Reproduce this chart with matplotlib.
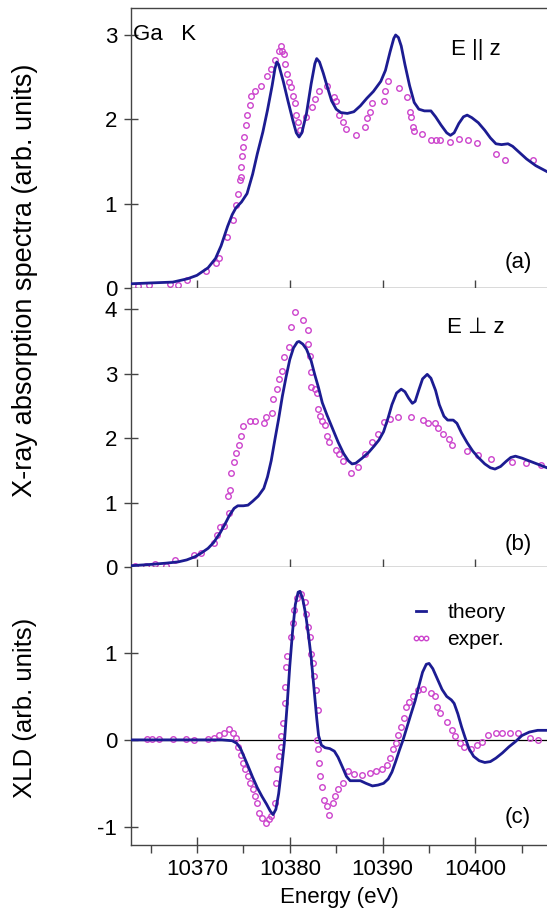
import matplotlib
matplotlib.use("Agg")
import matplotlib.pyplot as plt

plt.rcParams['font.family'] = ['Liberation Sans', 'DejaVu Sans']
plt.rcParams['axes.unicode_minus'] = False

# ---- panel (a): E || z ----
a_th_e = [10362.9, 10365.0, 10367.4, 10369.0, 10370.0, 10371.2, 10372.0, 10372.6, 10373.3, 10373.8,
          10374.2, 10374.8, 10375.4, 10376.0, 10376.5, 10377.1, 10377.6, 10378.1, 10378.4, 10378.6,
          10378.8, 10379.3, 10379.8, 10380.3, 10380.7, 10381.0, 10381.3, 10381.8, 10382.3, 10382.7,
          10382.9, 10383.2, 10383.6, 10384.0, 10384.5, 10385.0, 10385.5, 10386.2, 10386.9, 10387.6,
          10388.3, 10389.0, 10389.8, 10390.3, 10390.8, 10391.2, 10391.4, 10391.7, 10392.0, 10392.4,
          10392.9, 10393.4, 10393.9, 10394.5, 10395.2, 10395.7, 10396.3, 10396.9, 10397.3, 10397.7,
          10398.2, 10398.7, 10399.1, 10399.6, 10400.3, 10401.0, 10401.6, 10402.2, 10402.8, 10403.5,
          10404.0, 10404.7, 10405.5, 10406.5, 10407.7]
a_th_y = [0.05, 0.06, 0.07, 0.11, 0.15, 0.24, 0.35, 0.50, 0.73, 0.87,
          0.95, 1.02, 1.12, 1.35, 1.59, 1.85, 2.11, 2.40, 2.60, 2.68,
          2.65, 2.45, 2.22, 2.00, 1.84, 1.79, 1.84, 2.07, 2.42, 2.66,
          2.72, 2.68, 2.55, 2.40, 2.22, 2.12, 2.08, 2.07, 2.09, 2.16,
          2.25, 2.33, 2.45, 2.58, 2.80, 2.96, 3.00, 2.97, 2.87, 2.65,
          2.40, 2.20, 2.12, 2.10, 2.10, 2.03, 1.93, 1.84, 1.81, 1.84,
          1.95, 2.03, 2.05, 2.02, 1.96, 1.87, 1.78, 1.71, 1.70, 1.71,
          1.68, 1.61, 1.53, 1.45, 1.38]
a_ex_e = [10363.7, 10364.8, 10367.1, 10368.0, 10368.9, 10371.0, 10372.0, 10372.4, 10373.2, 10373.9,
          10374.2, 10374.4, 10374.6, 10374.7, 10374.8, 10374.9, 10375.0, 10375.1, 10375.3, 10375.4,
          10375.7, 10375.8, 10376.3, 10376.9, 10377.5, 10378.0, 10378.4, 10378.8, 10379.0, 10379.2,
          10379.4, 10379.5, 10379.7, 10379.9, 10380.1, 10380.3, 10380.6, 10380.7, 10380.9, 10381.1,
          10381.8, 10382.4, 10382.7, 10383.1, 10384.0, 10384.8, 10385.0, 10385.3, 10385.7, 10386.1,
          10387.1, 10388.1, 10388.3, 10388.6, 10388.9, 10390.1, 10390.3, 10390.6, 10391.8, 10392.6,
          10392.9, 10393.1, 10393.3, 10393.4, 10394.2, 10395.2, 10395.7, 10396.2, 10397.2, 10398.2,
          10399.2, 10400.2, 10402.2, 10403.2, 10406.2]
a_ex_y = [0.02, 0.03, 0.05, 0.04, 0.10, 0.20, 0.30, 0.35, 0.61, 0.81,
          0.98, 1.12, 1.28, 1.32, 1.44, 1.56, 1.67, 1.79, 1.93, 2.05,
          2.17, 2.28, 2.34, 2.40, 2.51, 2.60, 2.70, 2.81, 2.87, 2.81,
          2.78, 2.66, 2.54, 2.44, 2.38, 2.28, 2.19, 2.05, 1.97, 1.87,
          2.03, 2.15, 2.24, 2.34, 2.39, 2.26, 2.22, 2.05, 1.97, 1.89,
          1.81, 1.91, 2.01, 2.09, 2.19, 2.22, 2.34, 2.45, 2.37, 2.26,
          2.09, 2.03, 1.91, 1.86, 1.83, 1.75, 1.75, 1.75, 1.73, 1.77,
          1.75, 1.72, 1.59, 1.52, 1.52]

# ---- panel (b): E perp z ----
b_th_e = [10362.9, 10365.0, 10366.7, 10368.0, 10368.9, 10369.8, 10370.5, 10371.2, 10371.8, 10372.5,
          10373.0, 10373.5, 10374.0, 10374.4, 10375.0, 10375.5, 10376.0, 10376.6, 10377.2, 10377.6,
          10378.0, 10378.4, 10378.8, 10379.2, 10379.6, 10380.0, 10380.4, 10380.8, 10381.0, 10381.4,
          10381.8, 10382.3, 10382.7, 10383.1, 10383.5, 10384.0, 10384.6, 10385.2, 10385.8, 10386.3,
          10386.7, 10387.1, 10387.8, 10388.5, 10389.1, 10389.6, 10390.1, 10390.6, 10391.0, 10391.5,
          10392.0, 10392.4, 10392.8, 10393.2, 10393.5, 10393.9, 10394.3, 10394.8, 10395.2, 10395.7,
          10396.1, 10396.6, 10397.0, 10397.6, 10398.0, 10398.5, 10399.1, 10399.7, 10400.3, 10401.0,
          10401.6, 10402.1, 10402.7, 10403.3, 10403.8, 10404.3, 10405.0, 10405.9, 10406.8, 10407.7]
b_th_y = [0.02, 0.04, 0.06, 0.08, 0.11, 0.16, 0.22, 0.29, 0.38, 0.53,
          0.66, 0.80, 0.91, 0.95, 0.95, 0.96, 1.02, 1.10, 1.22, 1.40,
          1.65, 1.98, 2.30, 2.65, 2.95, 3.22, 3.40, 3.49, 3.50, 3.46,
          3.38, 3.20, 2.98, 2.78, 2.55, 2.36, 2.15, 1.94, 1.76, 1.65,
          1.60, 1.61, 1.69, 1.78, 1.88, 1.97, 2.10, 2.32, 2.52, 2.70,
          2.76, 2.72, 2.62, 2.54, 2.57, 2.75, 2.92, 2.99, 2.93, 2.74,
          2.52, 2.34, 2.28, 2.28, 2.23, 2.08, 1.93, 1.80, 1.70, 1.60,
          1.54, 1.52, 1.56, 1.64, 1.70, 1.72, 1.69, 1.64, 1.59, 1.54]
b_ex_e = [10363.3, 10364.5, 10365.5, 10366.7, 10367.6, 10369.7, 10370.4, 10371.8, 10372.2, 10372.5,
          10372.9, 10373.5, 10373.3, 10373.6, 10373.7, 10374.0, 10374.2, 10374.5, 10374.8, 10375.0,
          10375.7, 10376.3, 10377.2, 10377.4, 10378.1, 10378.2, 10378.6, 10378.8, 10379.2, 10379.4,
          10379.9, 10380.1, 10380.6, 10381.4, 10382.0, 10382.0, 10382.2, 10382.3, 10382.3, 10382.7,
          10382.9, 10383.0, 10383.3, 10383.5, 10383.8, 10384.0, 10384.2, 10385.0, 10385.3, 10385.7,
          10386.6, 10387.4, 10388.1, 10388.9, 10389.5, 10390.1, 10390.8, 10391.6, 10393.0, 10394.3,
          10394.9, 10395.6, 10396.0, 10396.5, 10397.1, 10397.5, 10399.1, 10400.3, 10401.7, 10403.9,
          10405.4, 10407.1]
b_ex_y = [0.01, 0.02, 0.05, 0.02, 0.11, 0.19, 0.21, 0.37, 0.49, 0.62,
          0.64, 0.84, 1.10, 1.20, 1.46, 1.63, 1.77, 1.90, 2.03, 2.19,
          2.26, 2.26, 2.24, 2.33, 2.39, 2.60, 2.76, 2.91, 3.04, 3.26,
          3.42, 3.73, 3.95, 3.83, 3.68, 3.46, 3.27, 3.02, 2.80, 2.76,
          2.70, 2.45, 2.34, 2.26, 2.20, 2.03, 1.94, 1.82, 1.76, 1.64,
          1.46, 1.55, 1.76, 1.94, 2.07, 2.25, 2.29, 2.33, 2.33, 2.28,
          2.24, 2.23, 2.16, 2.07, 1.98, 1.89, 1.80, 1.74, 1.68, 1.63,
          1.62, 1.58]

# ---- panel (c): XLD ----
c_th_e = [10362.9, 10372.7, 10373.8, 10374.3, 10374.7, 10375.1, 10375.5, 10376.0, 10376.5, 10377.0,
          10377.5, 10377.9, 10378.2, 10378.5, 10378.8, 10379.1, 10379.4, 10379.7, 10380.0, 10380.3,
          10380.6, 10380.9, 10381.1, 10381.4, 10381.7, 10382.0, 10382.3, 10382.6, 10382.9, 10383.1,
          10383.4, 10383.8, 10384.3, 10384.8, 10385.2, 10385.7, 10386.1, 10386.5, 10387.0, 10387.6,
          10388.2, 10388.9, 10389.5, 10390.1, 10390.6, 10391.0, 10391.4, 10391.8, 10392.2, 10392.6,
          10393.0, 10393.5, 10393.9, 10394.3, 10394.7, 10395.0, 10395.4, 10395.9, 10396.4, 10396.9,
          10397.4, 10397.7, 10398.1, 10398.5, 10398.9, 10399.3, 10399.8, 10400.4, 10401.0, 10401.6,
          10402.2, 10402.9, 10403.6, 10404.3, 10405.0, 10405.8, 10406.7, 10407.7]
c_th_y = [0.00, 0.00, -0.01, -0.04, -0.10, -0.20, -0.30, -0.43, -0.55, -0.65,
          -0.74, -0.82, -0.86, -0.80, -0.62, -0.35, -0.05, 0.38, 0.85, 1.25,
          1.56, 1.70, 1.71, 1.62, 1.45, 1.22, 0.95, 0.60, 0.25, 0.05,
          -0.06, -0.09, -0.10, -0.13, -0.20, -0.32, -0.42, -0.47, -0.47, -0.47,
          -0.50, -0.53, -0.52, -0.50, -0.45, -0.37, -0.25, -0.12, 0.00, 0.14,
          0.28, 0.45, 0.62, 0.78, 0.87, 0.88, 0.82, 0.70, 0.58, 0.50,
          0.46, 0.42, 0.30, 0.15, 0.02, -0.10, -0.19, -0.24, -0.26, -0.25,
          -0.21, -0.15, -0.08, -0.02, 0.05, 0.09, 0.11, 0.11]
c_ex_e = [10364.6, 10365.2, 10365.9, 10367.4, 10368.8, 10369.7, 10371.2, 10371.8, 10372.4, 10372.9,
          10373.5, 10373.9, 10374.2, 10374.4, 10374.8, 10375.0, 10375.2, 10375.5, 10375.7, 10376.0,
          10376.3, 10376.5, 10376.7, 10377.0, 10377.4, 10377.8, 10378.0, 10378.4, 10378.5, 10378.6,
          10378.8, 10379.0, 10379.1, 10379.3, 10379.5, 10379.5, 10379.6, 10379.7, 10380.1, 10380.3,
          10380.5, 10380.8, 10381.2, 10381.6, 10381.8, 10382.0, 10382.2, 10382.3, 10382.5, 10382.6,
          10382.8, 10383.0, 10382.9, 10383.0, 10383.1, 10383.3, 10383.5, 10383.7, 10384.0, 10384.2,
          10384.6, 10384.9, 10385.2, 10385.7, 10386.3, 10386.9, 10387.8, 10388.6, 10389.3, 10389.9,
          10390.5, 10390.8, 10391.1, 10391.4, 10391.7, 10392.0, 10392.3, 10392.5, 10392.8, 10393.3,
          10393.8, 10394.4, 10395.2, 10395.6, 10395.9, 10396.2, 10396.9, 10397.5, 10397.8, 10398.3,
          10398.8, 10399.5, 10400.2, 10400.7, 10401.4, 10402.2, 10402.9, 10403.7, 10404.6, 10405.9,
          10406.7]
c_ex_y = [0.01, 0.01, 0.01, 0.01, 0.01, 0.00, 0.01, 0.02, 0.06, 0.08,
          0.12, 0.08, 0.02, -0.08, -0.17, -0.27, -0.34, -0.42, -0.50, -0.57,
          -0.65, -0.73, -0.84, -0.90, -0.96, -0.91, -0.88, -0.73, -0.50, -0.34,
          -0.19, -0.08, 0.04, 0.19, 0.42, 0.61, 0.84, 0.96, 1.19, 1.34,
          1.49, 1.63, 1.68, 1.59, 1.45, 1.30, 1.19, 0.99, 0.88, 0.73,
          0.57, 0.34, 0.00, -0.11, -0.27, -0.42, -0.54, -0.69, -0.76, -0.86,
          -0.73, -0.65, -0.57, -0.50, -0.36, -0.39, -0.40, -0.38, -0.36, -0.34,
          -0.29, -0.21, -0.11, -0.04, 0.06, 0.15, 0.25, 0.38, 0.44, 0.50,
          0.57, 0.59, 0.54, 0.50, 0.38, 0.31, 0.21, 0.11, 0.04, -0.04,
          -0.08, -0.10, -0.06, -0.03, 0.06, 0.08, 0.08, 0.08, 0.08, 0.02,
          0.00]

x_ticks = [10370, 10380, 10390, 10400]
x_minor = [10365, 10375, 10385, 10395, 10405]

line_color = '#1c1c92'
dot_color = '#cc44cc'
axis_color = '#444444'

W, H = 547, 913
fig = plt.figure(figsize=(W / 100, H / 100), dpi=100)


def px_axes(top, bottom, left=131, right=547):
    return fig.add_axes([left / W, 1 - bottom / H, (right - left) / W, (bottom - top) / H])


ax_a = px_axes(8, 288)
ax_b = px_axes(288, 567)
ax_c = px_axes(567, 845)

panels = [
    (ax_a, a_th_e, a_th_y, a_ex_e, a_ex_y, (0, 3.32), [0, 1, 2, 3]),
    (ax_b, b_th_e, b_th_y, b_ex_e, b_ex_y, (0, 4.33), [0, 1, 2, 3, 4]),
    (ax_c, c_th_e, c_th_y, c_ex_e, c_ex_y, (-1.21, 1.99), [-1, 0, 1]),
]

for ax, te, ty, ee, ey, ylim, yt in panels:
    if ax is ax_c:
        ax.axhline(0, color='black', lw=0.9, zorder=1)
    ax.plot(ee, ey, 'o', ms=4, mfc='none', mec=dot_color, mew=1.0, zorder=2, label='exper.')
    ax.plot(te, ty, '-', color=line_color, lw=2.0, zorder=3, label='theory')
    ax.set_xlim(10362.9, 10407.7)
    ax.set_ylim(*ylim)
    ax.set_yticks(yt)
    ax.set_xticks(x_ticks)
    ax.set_xticks(x_minor, minor=True)
    ax.spines['right'].set_visible(False)
    if ax is not ax_a:
        ax.spines['top'].set_visible(False)
    for s in ax.spines.values():
        s.set_color(axis_color)
        s.set_linewidth(1.0)
    ax.tick_params(axis='y', direction='inout', length=10, width=1, colors=axis_color,
                   labelcolor='black', labelsize=16, pad=5)
    ax.tick_params(axis='x', which='major', direction='inout', length=12, width=1,
                   colors=axis_color, labelcolor='black', labelsize=16, pad=4)
    ax.tick_params(axis='x', which='minor', direction='out', length=6, width=1, colors=axis_color)
    if ax is not ax_c:
        ax.tick_params(axis='x', labelbottom=False)

ax_a.text(10363.1, 3.0, 'Ga   K', fontsize=16, va='center', ha='left')
ax_a.text(0.83, 0.85, 'E || z', transform=ax_a.transAxes, fontsize=16, va='center', ha='center')
ax_a.text(0.93, 0.09, '(a)', transform=ax_a.transAxes, fontsize=16, va='center', ha='center')
ax_b.text(0.83, 0.857, 'E \u22a5 z', transform=ax_b.transAxes, fontsize=16, va='center', ha='center')
ax_b.text(0.93, 0.08, '(b)', transform=ax_b.transAxes, fontsize=16, va='center', ha='center')
ax_c.text(0.93, 0.10, '(c)', transform=ax_c.transAxes, fontsize=16, va='center', ha='center')

handles, labels = ax_c.get_legend_handles_labels()
leg = ax_c.legend(handles[::-1], labels[::-1], loc='upper left', bbox_to_anchor=(0.67, 0.87),
                  frameon=False, fontsize=15, handlelength=1.1, handletextpad=0.7,
                  labelspacing=0.4, numpoints=3, markerscale=0.8, borderpad=0, borderaxespad=0)

ax_c.set_xlabel('Energy (eV)', fontsize=16, labelpad=5)
fig.text(25 / W, 1 - 280 / H, 'X-ray absorption spectra (arb. units)', rotation=90,
         fontsize=19.5, va='center', ha='center')
fig.text(25 / W, 1 - 708 / H, 'XLD (arb. units)', rotation=90,
         fontsize=18.5, va='center', ha='center')

fig.savefig('out.png', dpi=100)
